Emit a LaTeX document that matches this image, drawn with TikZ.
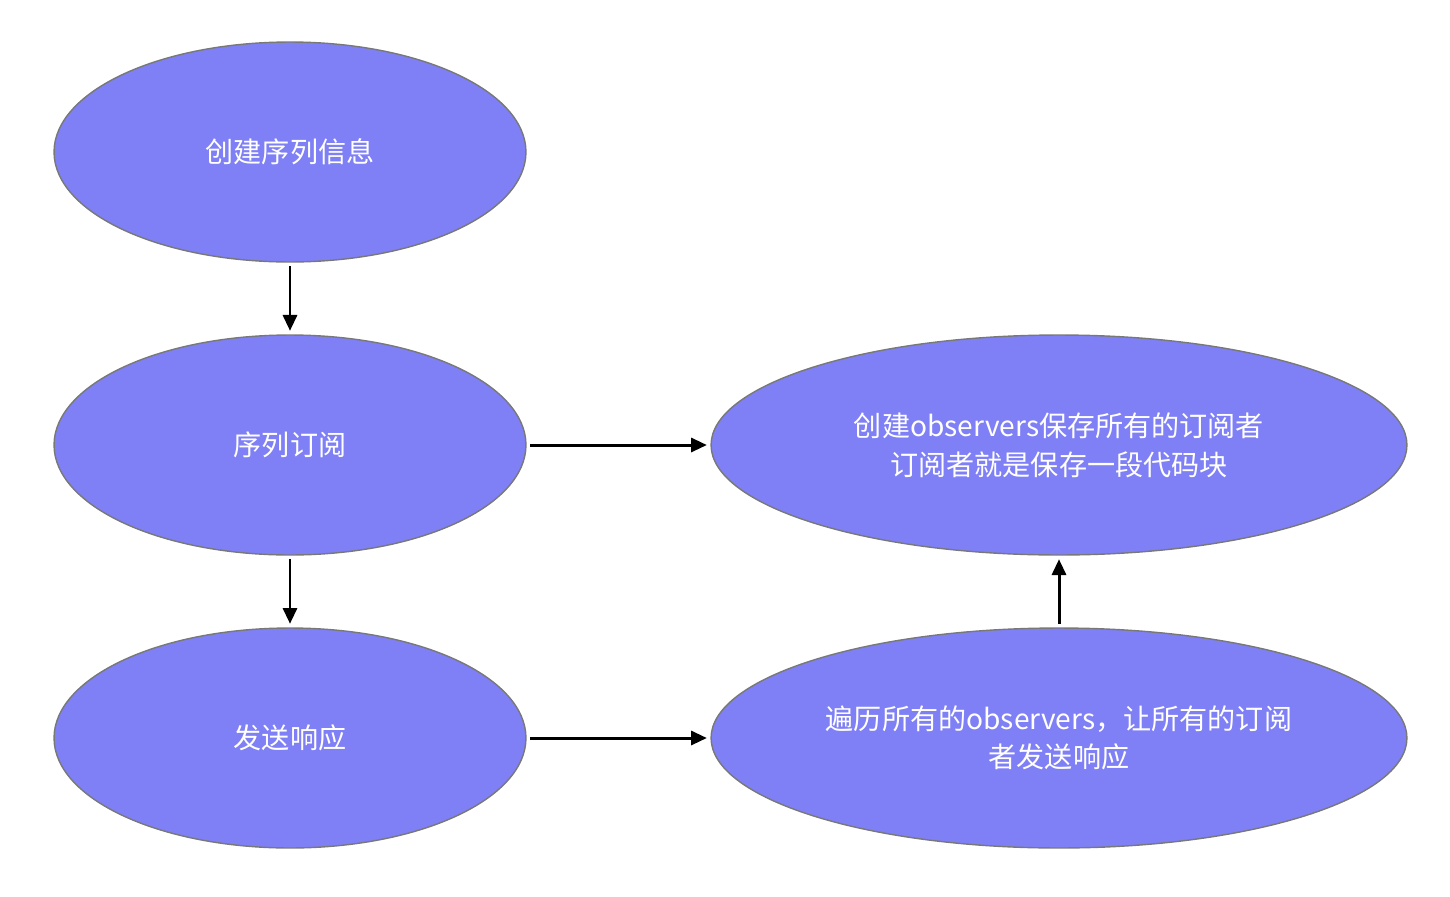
\documentclass[tikz,border=0pt]{standalone}
\usepackage{fontspec}
\newfontfamily\cjk{Noto Sans CJK SC}
\usetikzlibrary{shapes.geometric,arrows.meta}
\definecolor{fillc}{RGB}{127,128,245}
\definecolor{edgec}{RGB}{120,120,120}
\begin{document}
\begin{tikzpicture}[x=0.02cm,y=-0.02cm,
  el/.style={ellipse,draw=edgec,fill=fillc,line width=0.8pt,inner sep=0pt,
    text=white,font=\cjk\fontsize{16}{22}\selectfont,align=center},
  small/.style={el,minimum width=9.44cm,minimum height=4.4cm},
  big/.style={el,minimum width=13.92cm,minimum height=4.4cm},
  arr/.style={-{Triangle[length=9pt,width=8pt]},line width=1.7pt,shorten >=2pt,shorten <=2pt}]
\useasboundingbox (0,0) rectangle (1450,896);
\node[small] (a) at (290,152) {创建序列信息};
\node[small] (b) at (290,445) {序列订阅};
\node[small] (c) at (290,738) {发送响应};
\node[big] (d) at (1059,445) {创建observers保存所有的订阅者\\订阅者就是保存一段代码块};
\node[big] (e) at (1059,738) {遍历所有的observers，让所有的订阅\\者发送响应};
\draw[arr] (a) -- (b);
\draw[arr] (b) -- (c);
\draw[arr] (b) -- (d);
\draw[arr] (c) -- (e);
\draw[arr] (e) -- (d);
\end{tikzpicture}
\end{document}
